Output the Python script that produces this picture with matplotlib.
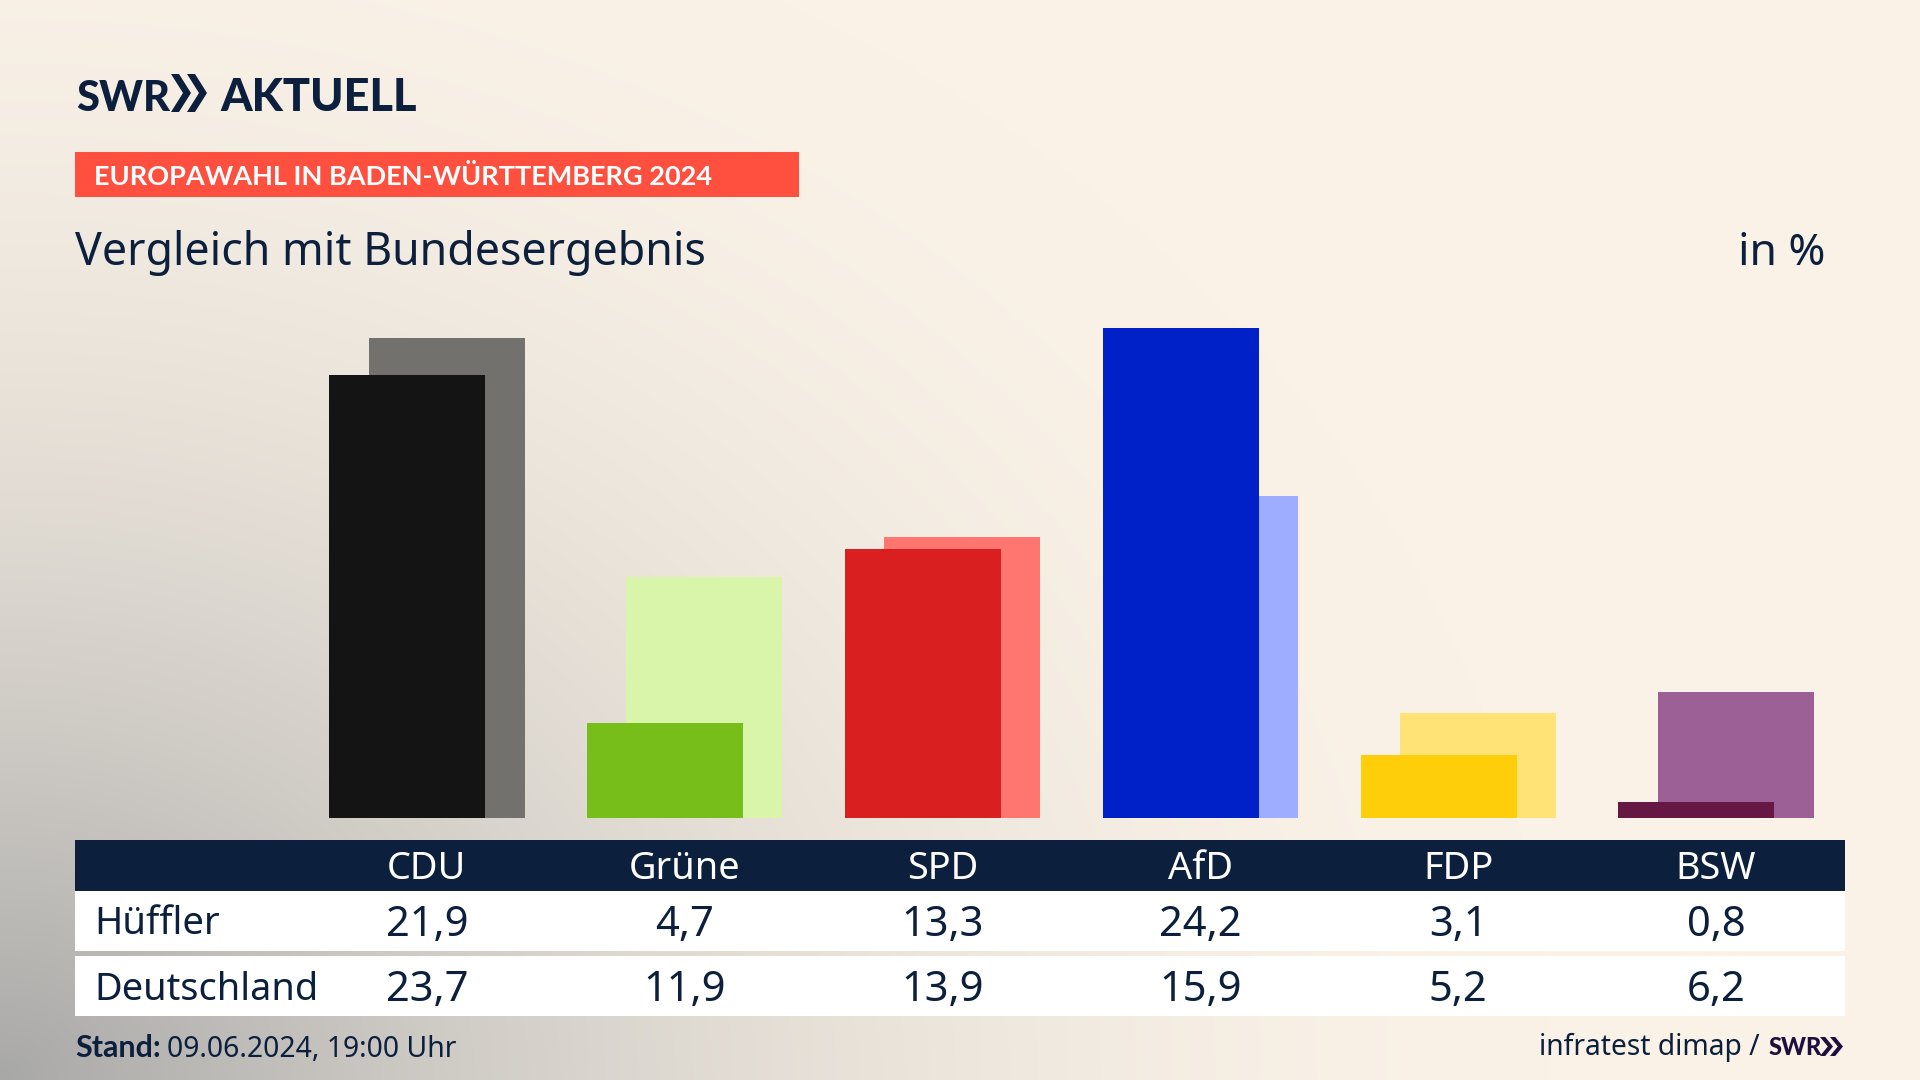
import numpy as np
import matplotlib
matplotlib.use("Agg")
import matplotlib.pyplot as plt
from matplotlib.patches import Rectangle, Polygon
from matplotlib.transforms import blended_transform_factory

parties = ["CDU", "Grüne", "SPD", "AfD", "FDP", "BSW"]
hueffler = [21.9, 4.7, 13.3, 24.2, 3.1, 0.8]
deutschland = [23.7, 11.9, 13.9, 15.9, 5.2, 6.2]
front_colors = ["#141414", "#78BE1A", "#D91F1F", "#0020C8", "#FFCE0A", "#641843"]
back_colors = ["#73716E", "#D9F5AA", "#FF7570", "#9EADFF", "#FFE377", "#9C6096"]
row_labels = ["Hüffler", "Deutschland"]

NAVY = "#0C1F3D"
FONT = "Noto Sans"
BOLD = "Lato"
plt.rcParams["font.family"] = [FONT, "DejaVu Sans"]

W, H = 1920, 1080
fig = plt.figure(figsize=(19.2, 10.8), dpi=100)

# pixel-space layer: background and furniture
px = fig.add_axes([0, 0, 1, 1])
px.set_xlim(0, W)
px.set_ylim(H, 0)
px.axis("off")

yy, xx = np.mgrid[0:H:270j, 0:W:480j]
d = np.clip(np.sqrt((xx / 1550) ** 2 + ((H - yy) / 1250) ** 2), 0, 1)
cream = np.array([250, 242, 231]) / 255
grey = np.array([168, 168, 167]) / 255
t = (1 - d) ** 1.9
bg = cream[None, None, :] + (grey - cream)[None, None, :] * t[:, :, None]
px.imshow(bg, extent=[0, W, H, 0], aspect="auto", zorder=0, interpolation="bilinear")

# bars layer, in data units
PX_PER_UNIT = 20.25
BASE_Y = 818
CAT_STEP = 257.8
CAT_0 = 426.9
bar = fig.add_axes([0, 0, 1, 1], zorder=1)
bar.patch.set_alpha(0)
bar.axis("off")
bar.set_xlim(-CAT_0 / CAT_STEP, (W - CAT_0) / CAT_STEP)
bar.set_ylim(-(H - BASE_Y) / PX_PER_UNIT, BASE_Y / PX_PER_UNIT)

pos = np.arange(len(parties))
bw = 156 / CAT_STEP
off = 19.6 / CAT_STEP
bar.bar(pos + off, deutschland, width=bw, color=back_colors, zorder=2)
bar.bar(pos - off, hueffler, width=bw, color=front_colors, zorder=3)

# table + text layer on top
top = fig.add_axes([0, 0, 1, 1], zorder=2)
top.patch.set_alpha(0)
top.axis("off")
top.set_xlim(0, W)
top.set_ylim(H, 0)
cat_tr = blended_transform_factory(bar.transData, top.transData)

top.add_patch(Rectangle((75, 840), 1770, 51, color=NAVY, lw=0))
top.add_patch(Rectangle((75, 891), 1770, 60, color="white", lw=0))
top.add_patch(Rectangle((75, 956), 1770, 60, color="white", lw=0))
top.add_patch(Rectangle((75, 152), 724, 45, color="#FF4F3F", lw=0))

for i, p in enumerate(parties):
    top.text(i, 879, p, transform=cat_tr, ha="center", va="baseline", color="white", fontsize=27.3)
for i, v in enumerate(hueffler):
    top.text(i, 936, f"{v:.1f}".replace(".", ","), transform=cat_tr, ha="center", va="baseline", color=NAVY, fontsize=30)
for i, v in enumerate(deutschland):
    top.text(i, 1001, f"{v:.1f}".replace(".", ","), transform=cat_tr, ha="center", va="baseline", color=NAVY, fontsize=30)
top.text(94, 934, row_labels[0], ha="left", va="baseline", color=NAVY, fontsize=27.5)
top.text(94, 1000, row_labels[1], ha="left", va="baseline", color=NAVY, fontsize=27.3)

top.text(75, 265, "Vergleich mit Bundesergebnis", ha="left", va="baseline", color=NAVY, fontsize=32.2)
top.text(1825, 265, "in %", ha="right", va="baseline", color=NAVY, fontsize=32)
top.text(94, 185, "EUROPAWAHL IN BADEN-WÜRTTEMBERG 2024", ha="left", va="baseline",
         color="white", fontsize=19.5, fontweight="bold", family=BOLD)

top.text(75, 1057, "Stand:", ha="left", va="baseline", color=NAVY, fontsize=22, fontweight="bold", family=BOLD)
top.text(167, 1057, "09.06.2024, 19:00 Uhr", ha="left", va="baseline", color=NAVY, fontsize=20.4)
top.text(1760, 1055, "infratest dimap /", ha="right", va="baseline", color=NAVY, fontsize=20.3)
top.text(1769, 1055, "SWR", ha="left", va="baseline", color="#1F0F3C", fontsize=17, fontweight="black", family=BOLD)

# logo
top.text(76, 111, "SWR", ha="left", va="baseline", color=NAVY, fontsize=30, fontweight="black", family=BOLD)
top.text(220, 111, "AKTUELL", ha="left", va="baseline", color=NAVY, fontsize=32.5, fontweight="black", family=BOLD)


def chevron(x0, y0, w, h, color):
    top.add_patch(Polygon([(x0, y0), (x0 + w * 0.6, y0 + h / 2), (x0, y0 + h),
                           (x0 + w * 0.4, y0 + h), (x0 + w, y0 + h / 2), (x0 + w * 0.4, y0)],
                          closed=True, color=color, lw=0))


chevron(171, 74, 20, 38, NAVY)
chevron(187, 74, 20, 38, NAVY)
chevron(1820, 1037, 13, 19, "#1F0F3C")
chevron(1830, 1037, 13, 19, "#1F0F3C")

fig.savefig("out.png", dpi=100)
